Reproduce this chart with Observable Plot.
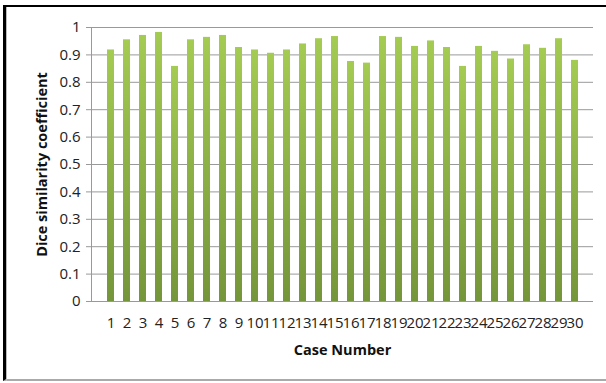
<!DOCTYPE html>
<html>
<head>
<meta charset="utf-8">
<script src="https://cdn.jsdelivr.net/npm/d3@7"></script>
<script src="https://cdn.jsdelivr.net/npm/@observablehq/plot@0.6"></script>
<style>
  html, body { margin: 0; padding: 0; background: #fff; }
  #wrap { position: relative; width: 606px; height: 383px; overflow: hidden; }
  #frame { position: absolute; left: 3px; top: 5px; width: 700px; height: 376px;
           border-top: 2px solid #000; border-left: 3px solid #000; border-bottom: 2px solid #aaa; box-sizing: border-box; }
  #shadow { position: absolute; left: 6px; top: 7px; width: 1px; height: 374px; background: #bbb; }
  #chart { position: absolute; left: 0; top: 0; }
</style>
</head>
<body>
<div id="wrap"><div id="frame"></div><div id="shadow"></div><div id="chart"></div></div>
<script>
const cases = d3.range(1, 31).map(String);
const dice = [0.918, 0.955, 0.971, 0.982, 0.858, 0.955, 0.964, 0.971, 0.927, 0.918,
              0.906, 0.918, 0.940, 0.959, 0.967, 0.876, 0.870, 0.967, 0.964, 0.931,
              0.951, 0.927, 0.858, 0.931, 0.913, 0.885, 0.937, 0.924, 0.959, 0.880];
const yTicks = [0, 0.1, 0.2, 0.3, 0.4, 0.5, 0.6, 0.7, 0.8, 0.9, 1];
const data = cases.map((c, i) => ({case: c, value: dice[i]}));

const gradientDefs = () => {
  const ns = "http://www.w3.org/2000/svg";
  const defs = document.createElementNS(ns, "defs");
  const lg = document.createElementNS(ns, "linearGradient");
  lg.setAttribute("id", "barGrad");
  lg.setAttribute("x1", "0"); lg.setAttribute("y1", "0");
  lg.setAttribute("x2", "0"); lg.setAttribute("y2", "1");
  [["0%", "#a4cb52"], ["100%", "#75953a"]].forEach(([o, c]) => {
    const s = document.createElementNS(ns, "stop");
    s.setAttribute("offset", o); s.setAttribute("stop-color", c);
    lg.appendChild(s);
  });
  defs.appendChild(lg);
  return defs;
};

const chart = Plot.plot({
  width: 606,
  height: 383,
  marginLeft: 91,
  marginRight: 13,
  marginTop: 27,
  marginBottom: 82,
  style: { fontFamily: "'Open Sans', sans-serif", fontSize: "15px", color: "#222", background: "transparent" },
  x: { type: "band", domain: cases, paddingInner: 0.58, paddingOuter: 0.29, label: null },
  y: { domain: [0, 1], label: null },
  marks: [
    gradientDefs,
    Plot.gridY(yTicks, { stroke: "#999", strokeOpacity: 1, strokeWidth: 1 }),
    Plot.barY(data, { x: "case", y: "value", fill: "url(#barGrad)" }),
    Plot.frame({ anchor: "left", stroke: "#999" }),
    Plot.ruleY([0], { stroke: "#999" }),
    Plot.axisY(yTicks, { tickSize: 5, tickPadding: 6, stroke: "#999", tickFormat: d => String(d), fontSize: 15, label: null }),
    Plot.axisX({ tickSize: 0, tickPadding: 16, fontSize: 15, label: null }),
    Plot.text(["Dice similarity coefficient"], { frameAnchor: "left", textAnchor: "middle", dx: -49, rotate: -90, fontWeight: "bold", fontSize: 14.5, fill: "#111" }),
    Plot.text(["Case Number"], { frameAnchor: "bottom", textAnchor: "middle", dy: 53, fontWeight: "bold", fontSize: 14.5, fill: "#111" })
  ]
});
document.getElementById("chart").appendChild(chart);
</script>
</body>
</html>
